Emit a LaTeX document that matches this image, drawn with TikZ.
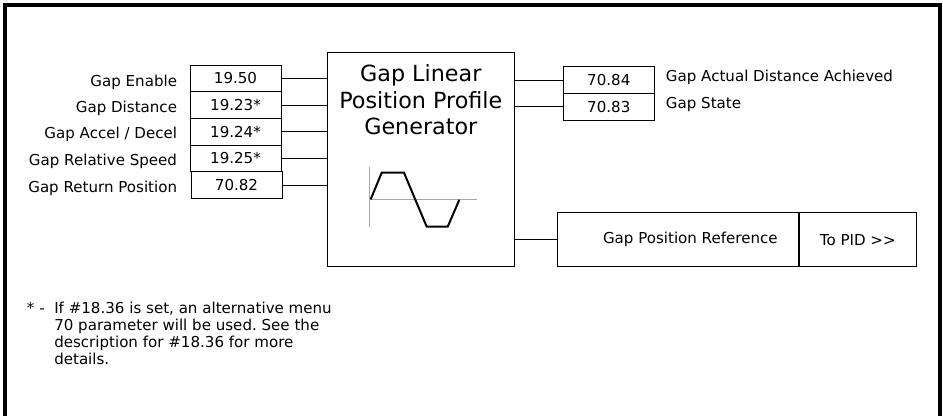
\documentclass[tikz,border=0pt]{standalone}
\usepackage{fontspec}
\setmainfont{DejaVu Sans}
\frenchspacing
\begin{document}
\begin{tikzpicture}[x=0.75pt,y=-0.75pt,
  numbox/.style={draw, line width=0.75pt, minimum width=68.25pt, minimum height=20pt, inner sep=0pt, font=\fontsize{11.3}{13}\selectfont},
  lbl/.style={inner sep=0pt, font=\fontsize{11.3}{13}\selectfont},
  conn/.style={line width=0.75pt},
  wave/.style={line width=1.5pt, line join=miter},
  axis/.style={line width=0.75pt, black!35}]
\useasboundingbox (0,0) rectangle (943,415);
% outer frame (open at bottom)
\draw[line width=3pt, line join=miter] (5.3,420) -- (5.3,5.3) -- (940,5.3) -- (940,420);

% generator block
\node[draw, line width=0.75pt, minimum width=140.25pt, minimum height=160.5pt, inner sep=0pt] (gen) at (420.8,159.7) {};
\node[anchor=north, align=center, inner sep=0pt, font=\fontsize{16.7}{20}\selectfont] (gentitle) at (420.8,64.3) {Gap Linear\\Position Profile\\Generator};

% waveform icon
\draw[axis] (369.7,167.3) -- (369.7,226.7);
\draw[axis] (369.7,199.3) -- (476.7,199.3);
\draw[wave] (370.7,199.3) -- (381.7,172.7) -- (404,172.7) -- (426.7,226.7) -- (447.7,226.7) -- (459.3,199.8);

% input boxes
\node[numbox] (i1) at (235.5,78.33) {19.50};
\node[numbox] (i2) at (235.5,105) {19.23*};
\node[numbox] (i3) at (235.5,131.67) {19.24*};
\node[numbox] (i4) at (235.5,158.33) {19.25*};
\node[numbox] (i5) at (236.5,185) {70.82};

\node[lbl, anchor=base east] (l1) at (177.3,86) {Gap Enable};
\node[lbl, anchor=base east] (l2) at (177.3,112.3) {Gap Distance};
\node[lbl, anchor=base east] (l3) at (177.3,138.8) {Gap Accel / Decel};
\node[lbl, anchor=base east] (l4) at (177.3,165.8) {Gap Relative Speed};
\node[lbl, anchor=base east] (l5) at (177.3,192.2) {Gap Return Position};

\foreach \n in {i1,i2,i3,i4,i5}
  \draw[conn] (\n.east) -- (\n.east -| gen.west);

% output boxes
\node[numbox] (o1) at (608.8,80) {70.84};
\node[numbox] (o2) at (608.8,106.67) {70.83};
\node[lbl, anchor=base west] (r1) at (665.7,81.7) {Gap Actual Distance Achieved};
\node[lbl, anchor=base west] (r2) at (665.7,108) {Gap State};
\foreach \n in {o1,o2}
  \draw[conn] (gen.east |- \n.west) -- (\n.west);

% position reference
\node[draw, line width=0.75pt, minimum width=180.45pt, minimum height=40.5pt, inner sep=0pt] (pref) at (678,239.7) {};
\node[lbl] (preftext) at (690.3,239.7) {Gap Position Reference};
\node[draw, line width=0.75pt, minimum width=87.75pt, minimum height=40.5pt, inner sep=0pt, font=\fontsize{11.3}{13}\selectfont, anchor=west] (pid) at (pref.east) {To PID >{}>};
\draw[conn] (gen.east |- pref.west) -- (pref.west);

% footnote
\node[lbl, anchor=base west] (star) at (26.7,313.3) {* -};
\node[lbl, anchor=base west] (fn1) at (54,313.3) {If \#18.36 is set, an alternative menu};
\node[lbl, anchor=base west] (fn2) at (54,330.5) {70 parameter will be used. See the};
\node[lbl, anchor=base west] (fn3) at (54,347.7) {description for \#18.36 for more};
\node[lbl, anchor=base west] (fn4) at (54,364.9) {details.};
\end{tikzpicture}
\end{document}
